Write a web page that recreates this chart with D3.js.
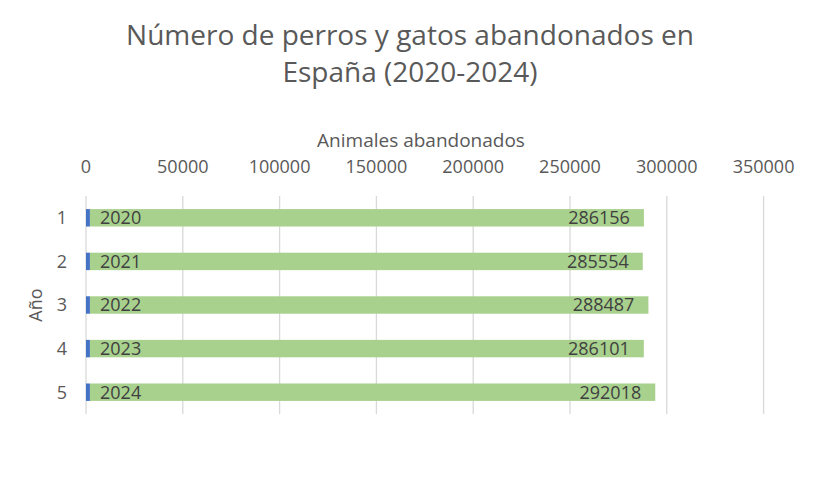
<!DOCTYPE html>
<html>
<head>
<meta charset="utf-8">
<script src="https://cdn.jsdelivr.net/npm/d3@7"></script>
<style>
  body { margin: 0; background: #fff; }
  svg { display: block; font-family: "Open Sans", "Noto Sans", sans-serif; }
</style>
</head>
<body>
<svg id="chart" width="816" height="496"></svg>
<script>
const categories = [1, 2, 3, 4, 5];
const years = [2020, 2021, 2022, 2023, 2024];
const animals = [286156, 285554, 288487, 286101, 292018];
const xTicks = [0, 50000, 100000, 150000, 200000, 250000, 300000, 350000];
const titleLines = ["Número de perros y gatos abandonados en", "España (2020-2024)"];
const xTitle = "Animales abandonados";
const yTitle = "Año";

const svg = d3.select("#chart");
const x = d3.scaleLinear().domain([0, 350000]).range([86, 763.6]);
const y = d3.scaleBand().domain(categories).range([196, 414]).paddingInner(0.6).paddingOuter(0.3);

// title
svg.append("text")
  .attr("text-anchor", "middle")
  .attr("fill", "#595959").attr("font-size", 28)
  .selectAll("tspan").data(titleLines).join("tspan")
  .attr("x", 410).attr("y", (d, i) => 45 + i * 37).text(d => d);

// axis title
svg.append("text").attr("x", 421).attr("y", 147).attr("text-anchor", "middle")
  .attr("fill", "#595959").attr("font-size", 19).text(xTitle);

// gridlines
svg.append("g").selectAll("line").data(xTicks).join("line")
  .attr("x1", d => x(d)).attr("x2", d => x(d))
  .attr("y1", y.range()[0]).attr("y2", y.range()[1])
  .attr("stroke", "#d9d9d9").attr("stroke-width", 1.3);

// top axis tick labels
svg.append("g").selectAll("text").data(xTicks).join("text")
  .attr("x", d => x(d)).attr("y", 173).attr("text-anchor", "middle")
  .attr("fill", "#595959").attr("font-size", 18).text(d => d);

// category labels
svg.append("g").selectAll("text").data(categories).join("text")
  .attr("x", 67).attr("y", d => y(d) + y.bandwidth() / 2).attr("dy", "0.35em")
  .attr("text-anchor", "end").attr("fill", "#595959").attr("font-size", 18).text(d => d);

// y title
svg.append("text").attr("transform", "translate(42,305) rotate(-90)")
  .attr("text-anchor", "middle").attr("fill", "#595959").attr("font-size", 18).text(yTitle);

const rows = categories.map((c, i) => ({ c, year: years[i], val: animals[i] }));

// green (stacked on year)
svg.append("g").selectAll("rect").data(rows).join("rect")
  .attr("x", d => x(d.year)).attr("width", d => x(d.year + d.val) - x(d.year))
  .attr("y", d => y(d.c)).attr("height", y.bandwidth())
  .attr("fill", "#a9d18e");

// blue (year)
svg.append("g").selectAll("rect").data(rows).join("rect")
  .attr("x", d => x(0)).attr("width", d => x(d.year) - x(0))
  .attr("y", d => y(d.c)).attr("height", y.bandwidth())
  .attr("fill", "#4472c4");

// labels
svg.append("g").selectAll("text").data(rows).join("text")
  .attr("x", d => x(0) + 14).attr("y", d => y(d.c) + y.bandwidth() / 2).attr("dy", "0.36em")
  .attr("fill", "#404040").attr("font-size", 18).text(d => d.year);

svg.append("g").selectAll("text").data(rows).join("text")
  .attr("x", d => x(d.year + d.val) - 14).attr("y", d => y(d.c) + y.bandwidth() / 2).attr("dy", "0.36em")
  .attr("text-anchor", "end").attr("fill", "#404040").attr("font-size", 18).text(d => d.val);
</script>
</body>
</html>
